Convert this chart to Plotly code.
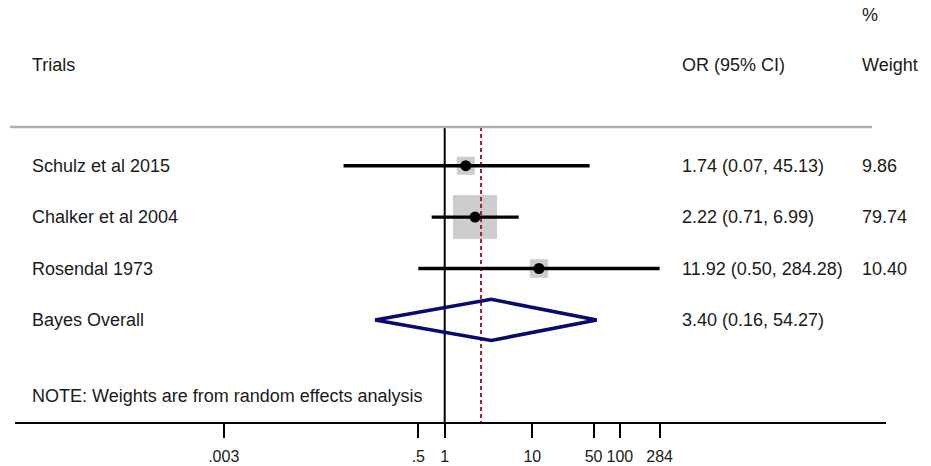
import plotly.graph_objects as go
import math

# ---------------- data ----------------
studies = ["Schulz et al 2015", "Chalker et al 2004", "Rosendal 1973"]
or_est = [1.74, 2.22, 11.92]
ci_low = [0.07, 0.71, 0.50]
ci_high = [45.13, 6.99, 284.28]
weights = [9.86, 79.74, 10.40]
or_text = ["1.74 (0.07, 45.13)", "2.22 (0.71, 6.99)", "11.92 (0.50, 284.28)"]
weight_text = ["9.86", "79.74", "10.40"]

overall_label = "Bayes Overall"
overall_est = 3.40
overall_low = 0.16
overall_high = 54.27
overall_text = "3.40 (0.16, 54.27)"

ref_line_or = 2.6   # dashed vertical reference line
null_line_or = 1.0

tick_vals = [0.003, 0.5, 1, 10, 50, 100, 284]
tick_text = [".003", ".5", "1", "10", "50", "100", "284"]

note_text = "NOTE: Weights are from random effects analysis"

# ---------------- layout geometry ----------------
W, H = 931, 466
L, R_EDGE = 15, 886          # axis line extent (px)
B = 422                      # axis line y (px)
PX_PER_DEC = 87.6
X_ONE = 444.7                # pixel of OR = 1
ROW0_PX, ROW_STEP = 165.7, 51.4

def px_to_log(p):
    return (p - X_ONE) / PX_PER_DEC

def px_to_row(p):
    return (p - ROW0_PX) / ROW_STEP

def paper_x(p):
    return (p - L) / (R_EDGE - L)

def paper_y(p):
    return (B - p) / B

FONT = "Liberation Sans, Arial, sans-serif"
TXT = "#1a1a1a"

n = len(studies)
rows = list(range(n))
overall_row = n
top_row = px_to_row(127)
bottom_row = px_to_row(B)

fig = go.Figure()

# CI lines
xs, ys = [], []
for i in range(n):
    xs += [ci_low[i], ci_high[i], None]
    ys += [rows[i], rows[i], None]

# vertical null line
fig.add_trace(go.Scatter(x=[null_line_or, null_line_or], y=[top_row, bottom_row],
                         mode="lines", line=dict(color="black", width=2),
                         hoverinfo="skip", showlegend=False))

# weight boxes
fig.add_trace(go.Scatter(x=or_est, y=rows, mode="markers",
                         marker=dict(symbol="square",
                                     size=[2.9 + 4.49 * math.sqrt(w) for w in weights],
                                     color="rgb(184,184,184)",
                                     line=dict(color="rgb(184,184,184)", width=1)),
                         hoverinfo="skip", showlegend=False))

# dashed reference line
fig.add_trace(go.Scatter(x=[ref_line_or, ref_line_or], y=[top_row, bottom_row],
                         mode="lines", line=dict(color="rgb(160,30,45)", width=2, dash="4px,3px"),
                         hoverinfo="skip", showlegend=False))

fig.add_trace(go.Scatter(x=xs, y=ys, mode="lines",
                         line=dict(color="black", width=3.4),
                         hoverinfo="skip", showlegend=False))

# point estimates
fig.add_trace(go.Scatter(x=or_est, y=rows, mode="markers",
                         marker=dict(symbol="circle", size=11, color="black"),
                         hoverinfo="skip", showlegend=False))

# overall diamond
h = 0.40
fig.add_trace(go.Scatter(
    x=[overall_low, overall_est, overall_high, overall_est, overall_low],
    y=[overall_row, overall_row - h, overall_row, overall_row + h, overall_row],
    mode="lines", line=dict(color="rgb(10,10,110)", width=3.6),
    hoverinfo="skip", showlegend=False))

# ---------------- text ----------------
ann = []
def add_text(text, xp, y, yref="y", size=18, xanchor="left"):
    ann.append(dict(text=text, x=paper_x(xp), xref="paper", y=y, yref=yref,
                    xanchor=xanchor, yanchor="middle", showarrow=False,
                    font=dict(family=FONT, size=size, color=TXT)))

add_text("Trials", 30, paper_y(65), "paper")
add_text("OR (95% CI)", 680, paper_y(65), "paper")
add_text("%", 860, paper_y(15), "paper")
add_text("Weight", 860, paper_y(65), "paper")

for i in range(n):
    add_text(studies[i], 30, rows[i])
    add_text(or_text[i], 680, rows[i])
    add_text(weight_text[i], 860, rows[i])

add_text(overall_label, 30, overall_row)
add_text(overall_text, 680, overall_row)
add_text(note_text, 30, paper_y(396), "paper")

shapes = [dict(type="line", xref="paper", yref="paper",
               x0=paper_x(10), x1=paper_x(872), y0=paper_y(127), y1=paper_y(127),
               line=dict(color="rgb(175,175,175)", width=2.5))]

fig.update_layout(
    width=W, height=H,
    margin=dict(l=L, r=W - R_EDGE, t=0, b=H - B, pad=0),
    paper_bgcolor="white", plot_bgcolor="white",
    annotations=ann, shapes=shapes,
    xaxis=dict(type="log", range=[px_to_log(L), px_to_log(R_EDGE)],
               tickvals=tick_vals, ticktext=tick_text,
               ticks="outside", ticklen=14, tickwidth=2, tickcolor="black",
               ticklabelstandoff=5,
               showline=True, linewidth=2, linecolor="black",
               showgrid=False, zeroline=False,
               tickfont=dict(family=FONT, size=16, color=TXT)),
    yaxis=dict(range=[px_to_row(B), px_to_row(0)], visible=False,
               showgrid=False, zeroline=False),
)

fig.write_html("out.html")
